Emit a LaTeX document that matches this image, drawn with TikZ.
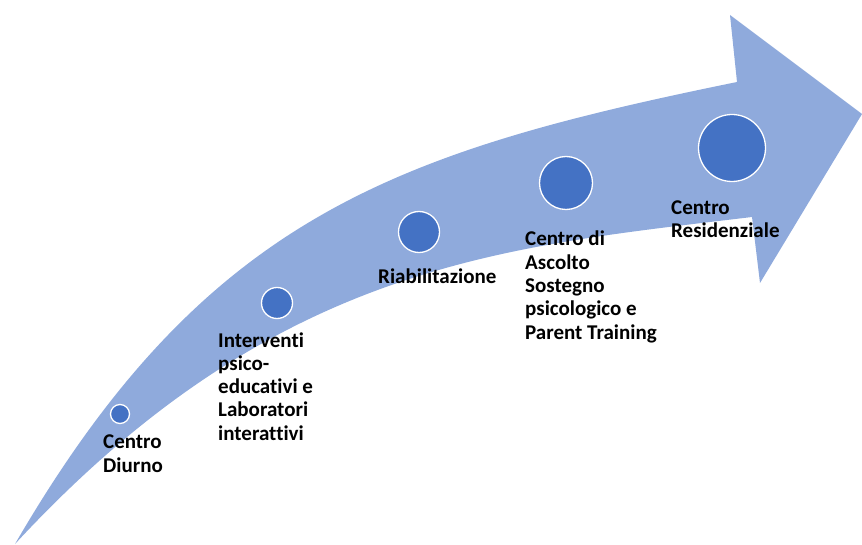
\documentclass[tikz,border=0pt]{standalone}
\usepackage{fontspec}
\setmainfont{Carlito}[Ligatures=NoCommon]
\usetikzlibrary{positioning}
\definecolor{bandblue}{RGB}{143,170,220}
\definecolor{dotblue}{RGB}{68,114,196}
\tikzstyle{stage} = [circle, fill=dotblue, draw=white, line width=1.3pt, inner sep=0pt]
\tikzstyle{stagelabel} = [anchor=base west, inner sep=0pt, align=left, font=\fontsize{21}{23.25}\selectfont\bfseries]

\begin{document}
\begin{tikzpicture}[x=1pt, y=-1pt]
\useasboundingbox (0,0) rectangle (862,545);

% Curved arrow band
\fill[bandblue] (15,544) .. controls (205,217) and (394,152) .. (737,82)
  -- (730,15) -- (862,114) -- (760,283) -- (752,217)
  .. controls (503,247) and (275,263) .. cycle;

% Stages along the band
\node (diurno) [stage, minimum size=19pt] at (120,414) {};
\node (interventi) [stage, minimum size=31pt] at (277,303) {};
\node (riab) [stage, minimum size=41pt] at (419,232) {};
\node (ascolto) [stage, minimum size=53pt] at (566,183) {};
\node (resid) [stage, minimum size=67pt] at (732,148) {};

% Labels (anchored at the baseline of their last line)
\node (diurnolbl) [stagelabel] at (103,472) {Centro\\Diurno};
\node (intervlbl) [stagelabel] at (218,440) {Interventi\\psico-\\educativi e\\Laboratori\\interattivi};
\node (riablbl) [stagelabel] at (378,284) {Riabilitazione};
\node (ascoltolbl) [stagelabel] at (525,339) {Centro di\\Ascolto\\Sostegno\\psicologico e\\Parent Training};
\node (residlbl) [stagelabel] at (671,238) {Centro\\Residenziale};
\end{tikzpicture}
\end{document}
